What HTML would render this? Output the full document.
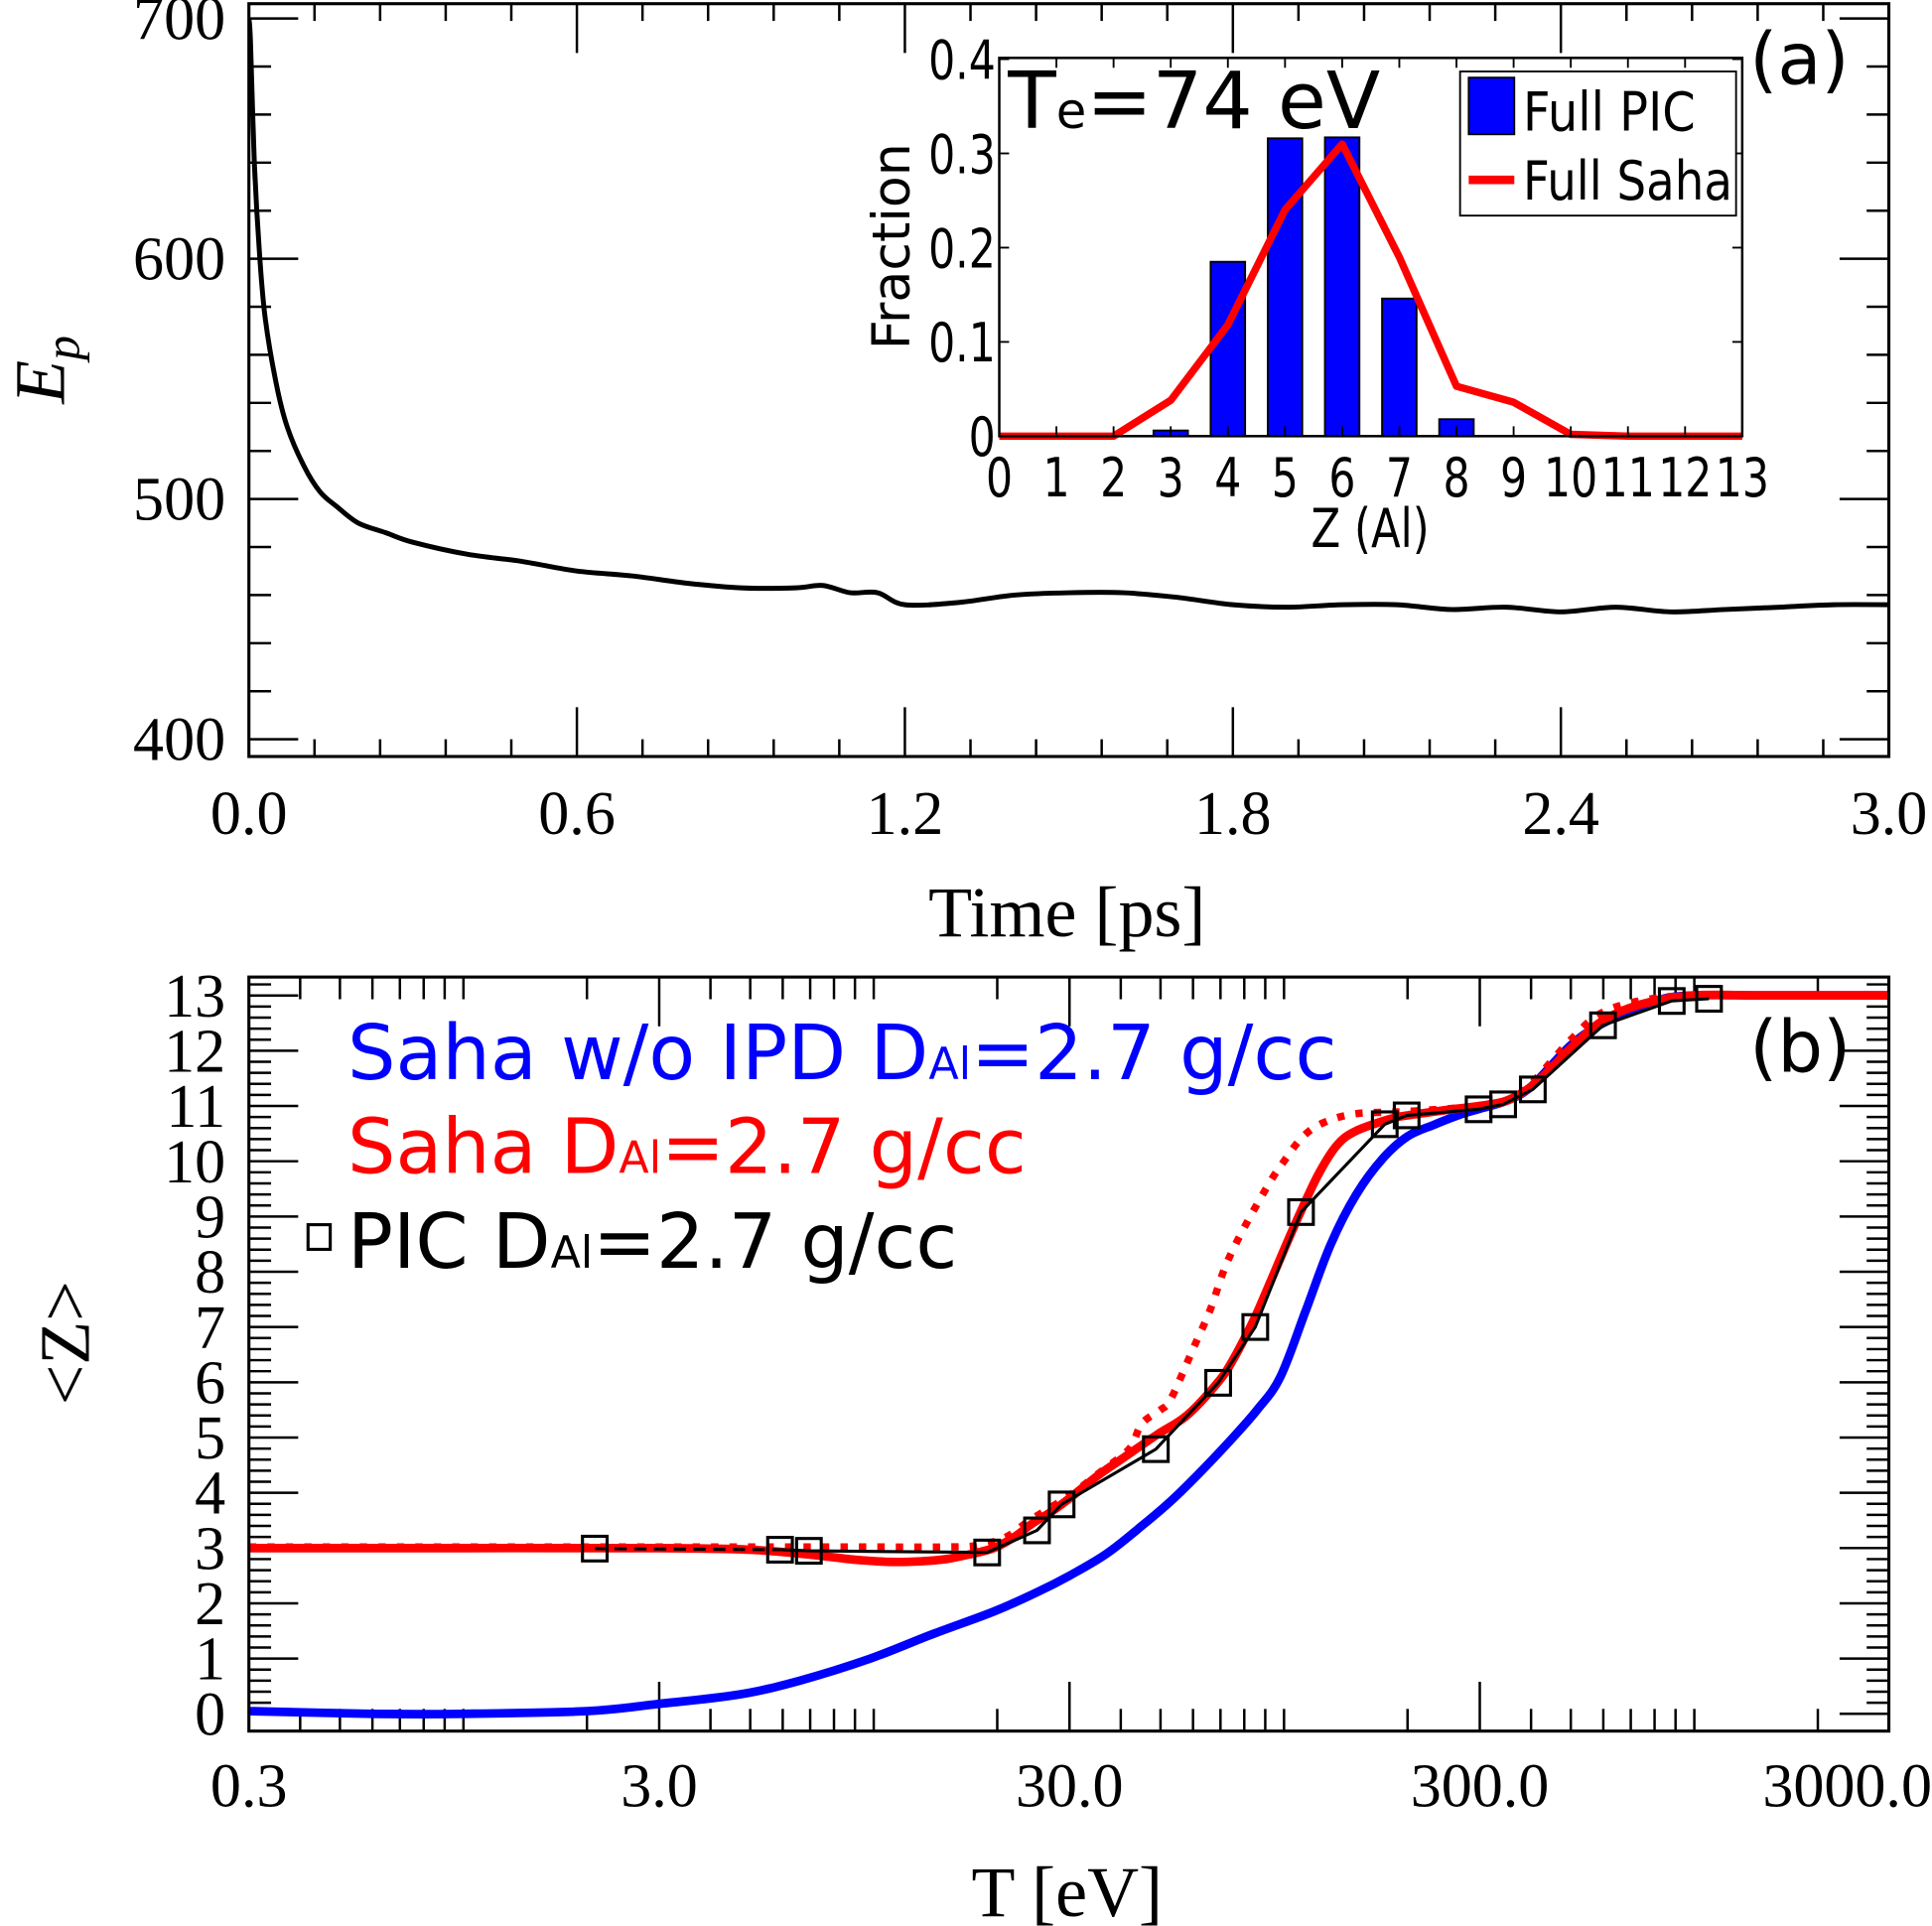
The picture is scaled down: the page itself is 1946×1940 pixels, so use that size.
<!DOCTYPE html>
<html><head><meta charset="utf-8"><style>
html,body{margin:0;padding:0;background:#fff;}
svg{display:block;}
.serif{font-family:"Liberation Serif",serif;}
.sans{font-family:"DejaVu Sans","Liberation Sans",sans-serif;}
</style></head><body>
<svg id="fig" width="1946" height="1940" viewBox="0 0 1568 1563.2" xmlns="http://www.w3.org/2000/svg">
<rect width="1568" height="1564" fill="#fff"/>
<defs>
<clipPath id="clipA"><rect x="202" y="3" width="1331" height="611"/></clipPath>
<clipPath id="clipB"><rect x="202" y="793" width="1331" height="612"/></clipPath>
</defs>
</svg>
<script>
// ---------- Panel (a) data ----------
const epTime = [0.0,0.003,0.01,0.02,0.03,0.05,0.07,0.1,0.13,0.16,0.2,0.25,0.3,0.4,0.5,0.6,0.7,0.8,0.9,1.0,1.05,1.1,1.15,1.2,1.3,1.4,1.5,1.6,1.7,1.8,1.9,2.0,2.1,2.2,2.3,2.4,2.5,2.6,2.7,2.8,2.9,3.0];
const epValue = [700,690,640,600,575,548,530,514,503,497,490,486,482,477,474,470,468,465,463,463,464,461,461,456,457,460,461,461,459,456,455,456,456,454,455,453,455,453,454,455,456,456];
const epYTicks = [400,500,600,700];
const epXTicks = [0.0,0.6,1.2,1.8,2.4,3.0];
// inset
const zCats = [0,1,2,3,4,5,6,7,8,9,10,11,12,13];
const picFrac = [0,0,0,0.006,0.185,0.316,0.317,0.146,0.018,0,0,0,0,0];
const sahaFrac = [0,0,0,0.038,0.118,0.24,0.31,0.19,0.053,0.036,0.002,0,0,0];
const insetYTicks = [0,0.1,0.2,0.3,0.4];
// ---------- Panel (b) data ----------
const blueT = [0.3,0.6,1.0,2.0,3.0,4.7,6.6,9.8,14,19.6,25,30,37,45,53,63,74,86,98,113,130,150,174,200,232,270,300,350,400,500,600,800,1000,1500,3000];
const blueZ = [0.05,0.0,0.0,0.05,0.18,0.35,0.6,1.0,1.45,1.85,2.2,2.5,2.9,3.4,3.85,4.4,4.95,5.5,6.1,7.3,8.5,9.4,10.05,10.45,10.66,10.85,10.95,11.1,11.35,12.1,12.5,12.9,13.0,13.0,13.0];
const redT = [0.3,1,3,5,7,9,11,13,15,17,19.6,22,24.4,27,30,35,40,49,58,69,75,84,90,100,110,122,135,150,182,200,250,300,350,400,450,500,600,750,1000,1500,3000];
const redZ = [3.0,3.0,3.0,2.97,2.88,2.79,2.75,2.76,2.8,2.88,3.0,3.2,3.45,3.65,3.9,4.3,4.6,5.05,5.4,6.0,6.4,7.1,7.6,8.4,9.1,9.8,10.3,10.55,10.77,10.83,10.93,11.0,11.1,11.35,11.7,12.05,12.55,12.85,13.0,13.0,13.0];
const dotT = [0.3,1,3,6,10,15,18,21,24,30,36,42,45,50,53,60,66,72,80,92,100,111,125,150,200,300,350,400,500,600,800,1100,1500,3000];
const dotZ = [3.02,3.02,3.02,3.02,3.02,3.02,3.05,3.2,3.5,3.95,4.4,4.8,5.25,5.5,5.7,6.6,7.3,8.1,8.8,9.6,10.0,10.44,10.7,10.86,10.9,11.0,11.1,11.4,12.2,12.7,12.95,13.0,13.0,13.0];
const picT = [2.09,5.91,6.95,18.9,25.0,28.7,48.7,69.1,85.1,110,176,199,298,342,404,599,881,1086];
const picZ = [2.99,2.97,2.95,2.92,3.32,3.79,4.79,5.99,7.0,9.08,10.67,10.83,10.94,11.03,11.3,12.46,12.9,12.94];
const zYTicks = [0,1,2,3,4,5,6,7,8,9,10,11,12,13];
const tXTicks = [0.3,3,30,300,3000];
const tXLabels = ["0.3","3.0","30.0","300.0","3000.0"];

const NS="http://www.w3.org/2000/svg";
const svg=document.getElementById('fig');
function mk(tag,attrs,parent){const e=document.createElementNS(NS,tag);for(const k in attrs)e.setAttribute(k,attrs[k]);(parent||svg).appendChild(e);return e;}
function txt(s,attrs,parent){const e=mk('text',attrs,parent);e.textContent=s;return e;}
function smoothPath(pts){
  let d='M'+pts[0][0].toFixed(1)+','+pts[0][1].toFixed(1);
  for(let i=0;i<pts.length-1;i++){
    const p0=pts[Math.max(0,i-1)],p1=pts[i],p2=pts[i+1],p3=pts[Math.min(pts.length-1,i+2)];
    const c1x=p1[0]+(p2[0]-p0[0])/6,c1y=p1[1]+(p2[1]-p0[1])/6;
    const c2x=p2[0]-(p3[0]-p1[0])/6,c2y=p2[1]-(p3[1]-p1[1])/6;
    d+='C'+c1x.toFixed(1)+','+c1y.toFixed(1)+' '+c2x.toFixed(1)+','+c2y.toFixed(1)+' '+p2[0].toFixed(1)+','+p2[1].toFixed(1);
  }
  return d;
}

// ---------- Panel A axes ----------
const A={x0:202,x1:1533,y0:3,y1:614};
const axX=t=>A.x0+(t-0)/(3.0)*(A.x1-A.x0);
const axY=v=>600-(v-400)*1.95;
const gA=mk('g',{});


for(let v=400;v<=700;v+=20){const maj=(v%100===0);const L=maj?40:18;
 mk('line',{x1:A.x0,y1:axY(v),x2:A.x0+L,y2:axY(v),stroke:'#000','stroke-width':2},gA);
 mk('line',{x1:A.x1,y1:axY(v),x2:A.x1-L,y2:axY(v),stroke:'#000','stroke-width':2},gA);}
for(let i=0;i<=25;i++){const t=i*0.12;const maj=(i%5===0);const L=maj?40:14;
 mk('line',{x1:axX(t),y1:A.y1,x2:axX(t),y2:A.y1-L,stroke:'#000','stroke-width':2},gA);
 mk('line',{x1:axX(t),y1:A.y0,x2:axX(t),y2:A.y0+L,stroke:'#000','stroke-width':2},gA);}
epYTicks.forEach(v=>{const e=txt(String(v),{x:183,y:axY(v)+17,'text-anchor':'end','font-size':50,class:'serif'},gA);
 });
epXTicks.forEach(t=>{const e=txt(t.toFixed(1),{x:axX(t),y:677,'text-anchor':'middle','font-size':50,class:'serif'},gA);
 });
{const e=txt('Time [ps]',{x:866,y:760,'text-anchor':'middle','font-size':58,class:'serif'},gA);
 }
{const e=txt('',{transform:'translate(52,300) rotate(-90)','text-anchor':'middle','font-size':58,class:'serif','font-style':'italic'},gA);
 e.innerHTML='E<tspan font-size="40" dy="12">p</tspan>';
 }
{const pts=epTime.map((t,i)=>[axX(t),axY(epValue[i])]);
 const p=mk('path',{d:smoothPath(pts),fill:'none',stroke:'#000','stroke-width':4,'stroke-linejoin':'round','clip-path':'url(#clipA)'},gA);
 }
mk('rect',{x:A.x0,y:A.y0,width:A.x1-A.x0,height:A.y1-A.y0,fill:'none',stroke:'#000','stroke-width':2.5},gA);
{const e=txt('(a)',{x:1420,y:68,'font-size':58,class:'sans'},gA);}

// ---------- Inset ----------
const I={x0:811,x1:1414,y0:47,y1:354};
const ix=z=>I.x0+z*(I.x1-I.x0)/13;
const iy=f=>I.y1-f*(I.y1-48)/0.4;
const gI=mk('g',{});


mk('rect',{x:I.x0,y:I.y0,width:I.x1-I.x0,height:I.y1-I.y0,fill:'#fff',stroke:'none'},gI);
zCats.forEach((z,i)=>{if(picFrac[i]<=0)return;const w=28;
 const r=mk('rect',{x:ix(z)-w/2,y:iy(picFrac[i]),width:w,height:iy(0)-iy(picFrac[i]),fill:'#0000ff',stroke:'#000','stroke-width':1.5},gI);
 });
{let d='';zCats.forEach((z,i)=>{d+=(i?'L':'M')+ix(z).toFixed(1)+','+iy(sahaFrac[i]).toFixed(1);});
 const p=mk('path',{d:d,fill:'none',stroke:'#ff0000','stroke-width':6,'stroke-linejoin':'round'},gI);
 }
zCats.forEach(z=>{mk('line',{x1:ix(z),y1:I.y1,x2:ix(z),y2:I.y1-8,stroke:'#000','stroke-width':1.5},gI);
 mk('line',{x1:ix(z),y1:I.y0,x2:ix(z),y2:I.y0+8,stroke:'#000','stroke-width':1.5},gI);
 const e=txt(String(z),{x:ix(z),y:403,'text-anchor':'middle','font-size':44,class:'sans',transform:'translate('+ix(z)+',0) scale(0.78,1) translate('+(-ix(z))+',0)'},gI);
 });
insetYTicks.forEach(f=>{mk('line',{x1:I.x0,y1:iy(f),x2:I.x0+8,y2:iy(f),stroke:'#000','stroke-width':1.5},gI);
 mk('line',{x1:I.x1,y1:iy(f),x2:I.x1-8,y2:iy(f),stroke:'#000','stroke-width':1.5},gI);
 const lab=f===0?'0':f.toFixed(1);
 const e=txt(lab,{x:808,y:iy(f)+16,'text-anchor':'end','font-size':44,class:'sans',transform:'translate(808,0) scale(0.78,1) translate(-808,0)'},gI);
 });
mk('rect',{x:I.x0,y:I.y0,width:I.x1-I.x0,height:I.y1-I.y0,fill:'none',stroke:'#000','stroke-width':2},gI);
{const e=txt('Fraction',{transform:'translate(738,200) rotate(-90)','text-anchor':'middle','font-size':42,class:'sans'},gI);}
{const e=txt('Z (Al)',{x:1112,y:444,'text-anchor':'middle','font-size':44,class:'sans',textLength:96,lengthAdjust:'spacingAndGlyphs'},gI);}
{const e=txt('',{x:818,y:104,'font-size':64,class:'sans'},gI);e.innerHTML='T<tspan font-size="40">e</tspan>=74 eV';}
{const g=mk('g',{},gI);
 mk('rect',{x:1185,y:58,width:224,height:117,fill:'#fff',stroke:'#000','stroke-width':1.5},g);
 mk('rect',{x:1192,y:63,width:37,height:46,fill:'#0000ff',stroke:'#000','stroke-width':1.5},g);
 txt('Full PIC',{x:1236,y:106,'font-size':44,class:'sans',textLength:140,lengthAdjust:'spacingAndGlyphs'},g);
 mk('line',{x1:1192,y1:146,x2:1229,y2:146,stroke:'#ff0000','stroke-width':7},g);
 txt('Full Saha',{x:1236,y:162,'font-size':44,class:'sans',textLength:170,lengthAdjust:'spacingAndGlyphs'},g);}

// ---------- Panel B ----------
const B={x0:202,x1:1533,y0:793,y1:1405};
const bx=T=>B.x0+Math.log10(T/0.3)*333;
const by=Z=>1391-Z*44.85;
const gB=mk('g',{});


for(let k=0;k<=66;k++){const v=k*0.2;const maj=(k%5===0);const L=maj?40:18;if(by(v)<B.y0)continue;
 mk('line',{x1:B.x0,y1:by(v),x2:B.x0+L,y2:by(v),stroke:'#000','stroke-width':2},gB);
 mk('line',{x1:B.x1,y1:by(v),x2:B.x1-L,y2:by(v),stroke:'#000','stroke-width':2},gB);}
for(let dec=-1;dec<=3;dec++){for(let m=1;m<=9;m++){const T=m*Math.pow(10,dec);if(T<0.3||bx(T)>B.x1+0.5)continue;
 const L=(m===3)?40:18;
 mk('line',{x1:bx(T),y1:B.y1,x2:bx(T),y2:B.y1-L,stroke:'#000','stroke-width':2},gB);
 mk('line',{x1:bx(T),y1:B.y0,x2:bx(T),y2:B.y0+L,stroke:'#000','stroke-width':2},gB);}}
zYTicks.forEach(v=>{const e=txt(String(v),{x:183,y:by(v)+17,'text-anchor':'end','font-size':50,class:'serif'},gB);
 });
tXTicks.forEach((T,i)=>{const last=(i===tXTicks.length-1);
 const e=txt(tXLabels[i],{x:last?1568:bx(T),y:1466,'text-anchor':last?'end':'middle','font-size':50,class:'serif'},gB);
 });
{const e=txt('T [eV]',{x:866,y:1555,'text-anchor':'middle','font-size':58,class:'serif'},gB);}
{const e=txt('<Z>',{transform:'translate(72,1090) rotate(-90)','text-anchor':'middle','font-size':58,class:'serif'},gB);}
function curve(Ts,Zs,attrs,name,smooth){const pts=Ts.map((T,i)=>[bx(T),by(Zs[i])]);
 let d;if(smooth)d=smoothPath(pts);else{d='';pts.forEach((p,i)=>{d+=(i?'L':'M')+p[0].toFixed(1)+','+p[1].toFixed(1);});}
 const p=mk('path',Object.assign({d:d,fill:'none','stroke-linejoin':'round','clip-path':'url(#clipB)'},attrs),gB);
 }
curve(blueT,blueZ,{stroke:'#0000ff','stroke-width':7},'saha-no-ipd-curve',true);
curve(redT,redZ,{stroke:'#ff0000','stroke-width':7},'saha-ipd-curve',true);
curve(dotT,dotZ,{stroke:'#ff0000','stroke-width':6,'stroke-dasharray':'6,9'},'saha-dotted-curve',true);
curve(picT.slice(0,2),picZ.slice(0,2),{stroke:'#000','stroke-width':2.5,'stroke-dasharray':'10,6'},'pic-line-dashed',false);
curve(picT.slice(1),picZ.slice(1),{stroke:'#000','stroke-width':2.5},'pic-line',false);
picT.forEach((T,i)=>{const r=mk('rect',{x:bx(T)-10,y:by(picZ[i])-10,width:20,height:20,fill:'none',stroke:'#000','stroke-width':2.5},gB);
 });
mk('rect',{x:B.x0,y:B.y0,width:B.x1-B.x0,height:B.y1-B.y0,fill:'none',stroke:'#000','stroke-width':2.5},gB);
{const e=txt('(b)',{x:1420,y:870,'font-size':58,class:'sans'},gB);}
{const g=mk('g',{},gB);
 const t1=txt('',{x:282,y:876,'font-size':62,class:'sans',fill:'#0000ff',textLength:803,lengthAdjust:'spacingAndGlyphs'},g);
 t1.innerHTML='Saha w/o IPD D<tspan font-size="36">Al</tspan>=2.7 g/cc';
 
 const t2=txt('',{x:282,y:952,'font-size':62,class:'sans',fill:'#ff0000',textLength:551,lengthAdjust:'spacingAndGlyphs'},g);
 t2.innerHTML='Saha D<tspan font-size="36">Al</tspan>=2.7 g/cc';
 
 const s=mk('rect',{x:250,y:994,width:18,height:20,fill:'none',stroke:'#000','stroke-width':2.5},g);
 
 const t3=txt('',{x:282,y:1029,'font-size':62,class:'sans',fill:'#000',textLength:495,lengthAdjust:'spacingAndGlyphs'},g);
 t3.innerHTML='PIC D<tspan font-size="36">Al</tspan>=2.7 g/cc';
 }
</script>
</body></html>
